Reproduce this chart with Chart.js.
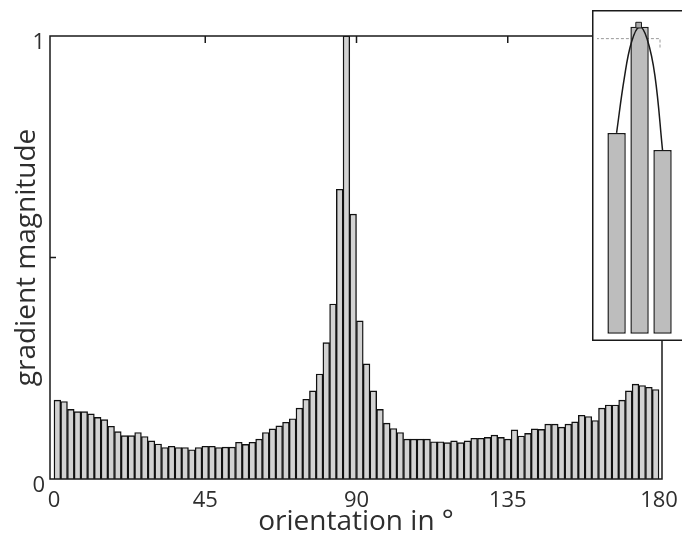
<!DOCTYPE html>
<html>
<head>
<meta charset="utf-8">
<script src="https://cdn.jsdelivr.net/npm/chart.js@4.4.0/dist/chart.umd.min.js"></script>
<style>
  html, body { margin: 0; padding: 0; background: #fff; overflow: hidden; }
  #wrap { position: relative; width: 682px; height: 540px; }
  #main { position: absolute; left: 0; top: 0; }
  #inset { position: absolute; left: 592px; top: 10px; background: #fff; }
</style>
</head>
<body>
<div id="wrap">
  <canvas id="main" width="682" height="540"></canvas>
  <canvas id="inset" width="90" height="331"></canvas>
</div>
<script>
// histogram: 90 bins of 2 degrees
const binWidth = 2;
const magnitudes = [
  0.178, 0.175, 0.157, 0.152, 0.152, 0.147, 0.139, 0.134, 0.119, 0.107,
  0.098, 0.098, 0.105, 0.096, 0.086, 0.079, 0.071, 0.074, 0.071, 0.071,
  0.066, 0.071, 0.074, 0.074, 0.071, 0.072, 0.072, 0.083, 0.078, 0.083,
  0.090, 0.105, 0.113, 0.120, 0.128, 0.136, 0.160, 0.180, 0.199, 0.237,
  0.308, 0.395, 0.654, 1.000, 0.598, 0.357, 0.260, 0.199, 0.157, 0.126,
  0.114, 0.105, 0.090, 0.090, 0.090, 0.090, 0.084, 0.084, 0.082, 0.086,
  0.082, 0.086, 0.092, 0.092, 0.094, 0.099, 0.094, 0.090, 0.111, 0.097,
  0.103, 0.113, 0.112, 0.124, 0.124, 0.117, 0.124, 0.129, 0.144, 0.141,
  0.132, 0.160, 0.167, 0.167, 0.178, 0.199, 0.214, 0.211, 0.207, 0.202
];
const xTicks = [0, 45, 90, 135, 180];
const yTicks = [0, 0.5, 1];
const yTickLabels = { 0: '0', 1: '1' };

// inset: the three bins around the peak, in bin units around the max
const peakBin = 43;
const insetBins = [-1, 0, 1];
const insetValues = magnitudes.slice(peakBin - 1, peakBin + 2);
const curveX = [-1, -0.67, -0.35, 0, 0.33, 0.67, 1];
const curveY = [0.654, 0.83, 0.95, 1.0, 0.96, 0.84, 0.598];
const peakX = [-0.04];
const peakY = [1.005];
const cornerX = [-1.9, 0.89, 0.89];
const cornerY = [0.961, 0.961, 0.927];

const ink = '#1a1a1a';
const textColor = '#2e2e2e';
const fontFamily = "'Open Sans', 'DejaVu Sans', sans-serif";

const frame = {
  id: 'frame',
  afterDatasetsDraw(chart) {
    const { ctx, chartArea: a, scales: { x, y } } = chart;
    ctx.save();
    ctx.strokeStyle = ink;
    ctx.lineWidth = 1.5;
    ctx.strokeRect(a.left, a.top, a.right - a.left, a.bottom - a.top);
    ctx.beginPath();
    for (const v of xTicks.slice(1, -1)) {
      const px = x.getPixelForValue(v);
      ctx.moveTo(px, a.top);
      ctx.lineTo(px, a.top + 7);
    }
    for (const v of yTicks.slice(1, -1)) {
      const py = y.getPixelForValue(v);
      ctx.moveTo(a.left, py);
      ctx.lineTo(a.left + 6, py);
    }
    ctx.stroke();
    ctx.restore();
  }
};

new Chart(document.getElementById('main'), {
  type: 'bar',
  data: {
    datasets: [{
      data: magnitudes.map((v, i) => ({ x: i * binWidth + binWidth / 2, y: v })),
      backgroundColor: '#d2d2d2',
      borderColor: '#111',
      borderWidth: 1.4,
      barPercentage: 1,
      categoryPercentage: 1
    }]
  },
  options: {
    responsive: false,
    animation: false,
    layout: { padding: { top: 36, right: 20, left: 0, bottom: 0 } },
    scales: {
      x: {
        type: 'linear',
        min: -1.19,
        max: 180.89,
        offset: false,
        grid: { display: false, drawTicks: false, tickLength: 0 },
        border: { display: false },
        afterBuildTicks: (s) => { s.ticks = xTicks.map(v => ({ value: v })); },
        afterFit: (s) => {
          s.height = 61;
          // labels may hang over the plot edges; the margins already leave room
          s.paddingLeft = 0;
          s.paddingRight = 0;
        },
        ticks: {
          padding: 9,
          maxRotation: 0,
          color: textColor,
          font: { family: fontFamily, size: 22 },
          callback: (v) => String(v)
        },
        title: {
          display: true,
          text: 'orientation in °',
          color: textColor,
          font: { family: fontFamily, size: 28 },
          padding: { top: 0, bottom: 1 }
        }
      },
      y: {
        min: 0,
        max: 1,
        grid: { display: false, drawTicks: false, tickLength: 0 },
        border: { display: false },
        afterBuildTicks: (s) => { s.ticks = yTicks.map(v => ({ value: v })); },
        afterFit: (s) => {
          s.width = 50;
          s.paddingTop = 0;
          s.paddingBottom = 0;
        },
        ticks: {
          padding: 5,
          labelOffset: 7,
          color: textColor,
          font: { family: fontFamily, size: 22 },
          callback: (v) => yTickLabels[v] || ''
        },
        title: {
          display: true,
          text: 'gradient magnitude',
          color: textColor,
          font: { family: fontFamily, size: 28 },
          padding: { top: 10, bottom: 0 }
        }
      }
    },
    plugins: { legend: { display: false }, tooltip: { enabled: false } }
  },
  plugins: [frame]
});

const insetBox = {
  id: 'insetBox',
  afterDatasetsDraw(chart) {
    const { ctx, width, height } = chart;
    ctx.save();
    ctx.strokeStyle = ink;
    ctx.lineWidth = 1.5;
    ctx.beginPath();
    ctx.moveTo(width, 0.75);
    ctx.lineTo(0.75, 0.75);
    ctx.lineTo(0.75, height - 0.75);
    ctx.lineTo(width, height - 0.75);
    ctx.stroke();
    ctx.restore();
  }
};

new Chart(document.getElementById('inset'), {
  type: 'bar',
  data: {
    datasets: [
      {
        type: 'line',
        data: cornerX.map((v, i) => ({ x: v, y: cornerY[i] })),
        borderColor: '#9a9a9a',
        borderWidth: 1,
        borderDash: [3, 2],
        pointRadius: 0,
        order: 4
      },
      {
        type: 'bar',
        data: insetBins.map((v, i) => ({ x: v, y: insetValues[i] })),
        backgroundColor: '#bdbdbd',
        borderColor: ink,
        borderWidth: 1.5,
        borderSkipped: false,
        barPercentage: 0.8,
        categoryPercentage: 1,
        order: 3
      },
      {
        type: 'line',
        data: curveX.map((v, i) => ({ x: v, y: curveY[i] })),
        borderColor: ink,
        borderWidth: 1.5,
        tension: 0.4,
        pointRadius: 0,
        order: 2
      },
      {
        type: 'line',
        showLine: false,
        data: peakX.map((v, i) => ({ x: v, y: peakY[i] })),
        pointStyle: 'rect',
        pointRadius: 4,
        backgroundColor: '#aaa',
        borderColor: ink,
        borderWidth: 1,
        order: 1
      }
    ]
  },
  options: {
    responsive: false,
    animation: false,
    layout: { padding: 0 },
    scales: {
      x: {
        type: 'linear', min: -1.853, max: 1.63, offset: false, display: false,
        afterBuildTicks: (s) => { s.ticks = insetBins.map(v => ({ value: v })); }
      },
      y: { min: -0.0076, max: 1.038, display: false }
    },
    plugins: { legend: { display: false }, tooltip: { enabled: false } }
  },
  plugins: [insetBox]
});
</script>
</body>
</html>
